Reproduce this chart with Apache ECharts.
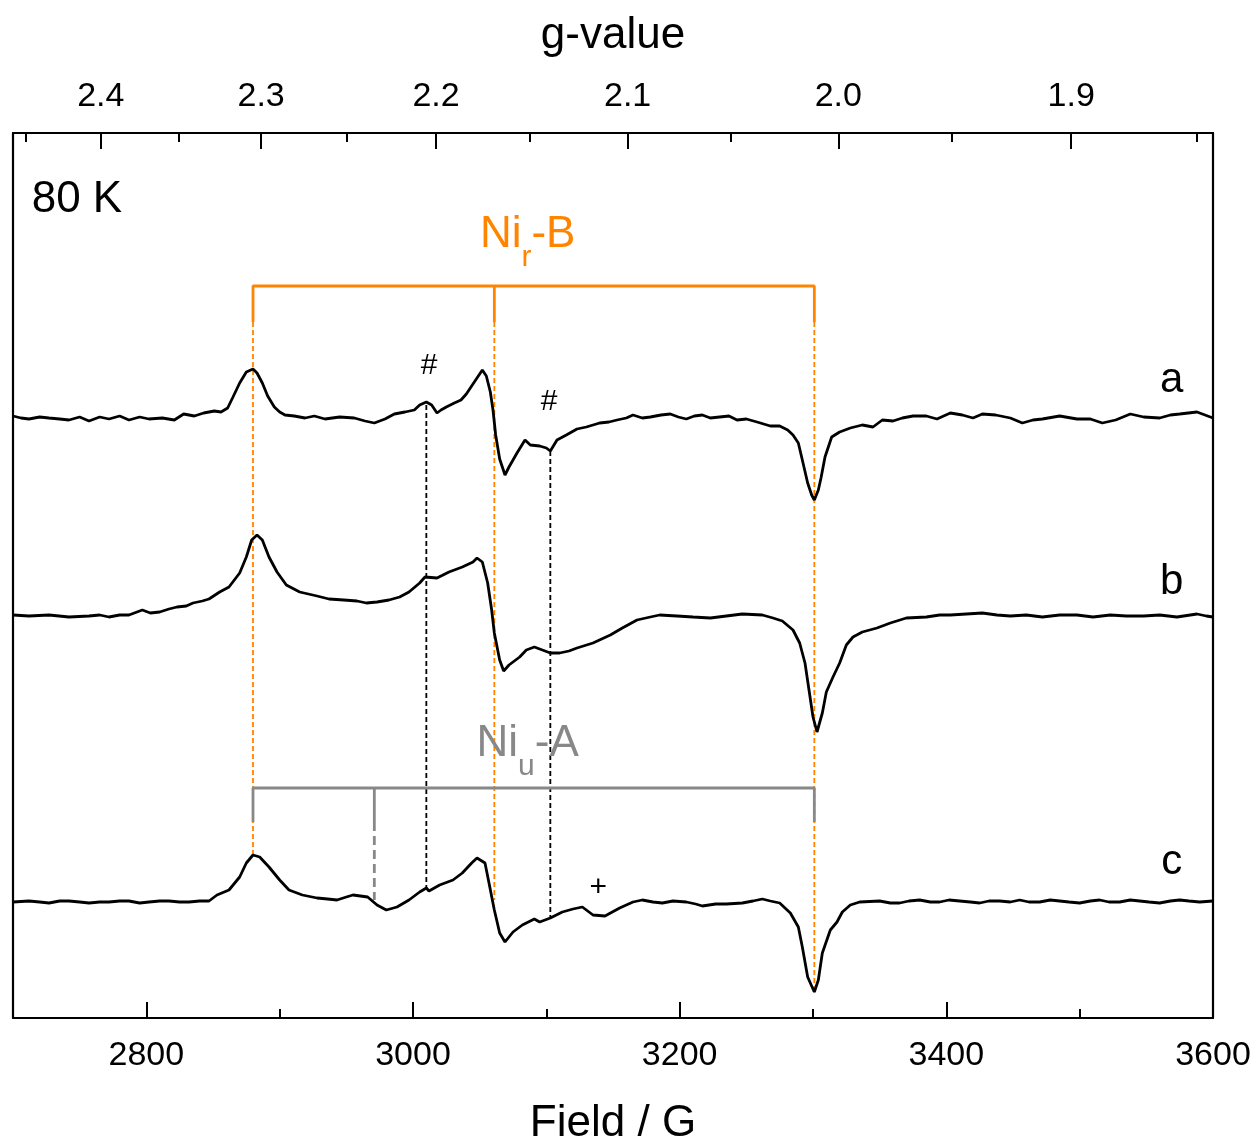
<!DOCTYPE html>
<html>
<head>
<meta charset="utf-8">
<script src="https://cdn.jsdelivr.net/npm/echarts@6/dist/echarts.min.js"></script>
<style>
html, body { margin: 0; padding: 0; background: #fff; }
#chart { width: 1256px; height: 1139px; }
</style>
</head>
<body>
<div id="chart"></div>
<script>
// g = hv / (muB * B)  -> hv/muB expressed in gauss
var G_CONST = 6638;

// axis ticks
var fieldTicks = [2800, 3000, 3200, 3400, 3600];
var fieldMinor = [2900, 3100, 3300, 3500];
var gTicks = [2.4, 2.3, 2.2, 2.1, 2.0, 1.9];
var gMinor = [2.45, 2.35, 2.25, 2.15, 2.05, 1.95, 1.85];

// spectra, [field (G), signal (a.u., relative to own baseline)]
var traceA = [[2700,1],[2706,-1],[2712,-2],[2720,0],[2727,-1],[2735,-2],[2742,-3],[2750,0],[2757,-4],[2765,0],[2772,-2],[2780,1],[2787,-3],[2795,0],[2802,-2],[2812,-1],[2821,-3],[2828,3],[2836,1],[2843,4],[2851,6],[2856,5],[2861,9],[2865,20],[2870,34],[2875,45],[2880,48],[2883,44],[2887,34],[2891,21],[2896,10],[2900,5],[2904,2],[2911,1],[2919,-1],[2926,1],[2934,-2],[2945,0],[2956,-1],[2964,-4],[2971,-6],[2979,-2],[2986,3],[2994,5],[3001,7],[3005,12],[3010,15],[3014,12],[3018,4],[3021,7],[3025,10],[3031,14],[3036,17],[3040,23],[3044,31],[3048,39],[3052,47],[3055,41],[3058,25],[3060,7],[3062,-18],[3065,-42],[3069,-58],[3072,-50],[3078,-36],[3084,-23],[3088,-28],[3095,-29],[3100,-31],[3103,-34],[3108,-23],[3115,-18],[3123,-12],[3130,-10],[3140,-6],[3147,-5],[3153,-3],[3160,-1],[3165,2],[3172,-1],[3178,0],[3186,2],[3193,3],[3199,0],[3205,-2],[3211,1],[3217,2],[3223,-1],[3230,0],[3237,1],[3243,-3],[3250,-2],[3258,-5],[3268,-9],[3275,-9],[3281,-13],[3285,-18],[3289,-26],[3292,-43],[3296,-66],[3299,-78],[3301,-83],[3304,-73],[3306,-61],[3309,-40],[3314,-20],[3320,-15],[3328,-11],[3337,-8],[3345,-10],[3352,-3],[3360,-4],[3367,-1],[3375,1],[3385,1],[3393,-2],[3403,4],[3412,2],[3420,-1],[3427,3],[3437,2],[3448,-1],[3457,-6],[3465,-3],[3472,-2],[3485,1],[3498,-2],[3508,-2],[3517,-6],[3527,-3],[3538,3],[3548,0],[3560,-1],[3568,2],[3575,3],[3588,5],[3600,-1]];

var traceB = [[2700,-1],[2712,-2],[2727,-1],[2742,-3],[2757,-2],[2765,-1],[2772,-3],[2780,-1],[2787,-1],[2797,4],[2803,1],[2810,2],[2817,5],[2823,7],[2830,8],[2835,11],[2842,13],[2847,15],[2855,22],[2862,27],[2870,41],[2875,57],[2879,74],[2883,79],[2887,74],[2892,57],[2898,42],[2905,29],[2915,22],[2928,18],[2937,15],[2948,14],[2958,13],[2965,11],[2973,12],[2982,14],[2990,17],[2997,22],[3005,31],[3009,37],[3018,36],[3027,42],[3037,47],[3045,52],[3048,56],[3052,52],[3056,31],[3059,4],[3061,-19],[3065,-46],[3068,-57],[3072,-51],[3080,-43],[3085,-36],[3091,-33],[3097,-36],[3103,-39],[3110,-39],[3117,-37],[3123,-34],[3135,-29],[3148,-21],[3157,-14],[3168,-6],[3178,-3],[3185,-1],[3198,-2],[3210,-3],[3223,-4],[3235,-2],[3247,0],[3262,-1],[3270,-4],[3277,-7],[3285,-16],[3290,-29],[3294,-49],[3297,-76],[3300,-103],[3303,-118],[3307,-99],[3310,-78],[3315,-63],[3320,-49],[3325,-31],[3330,-23],[3337,-18],[3348,-14],[3358,-9],[3370,-4],[3385,-3],[3395,-1],[3403,-1],[3415,0],[3427,1],[3438,-1],[3448,-2],[3460,-1],[3472,-3],[3485,-1],[3498,-1],[3510,-3],[3523,-1],[3535,-2],[3548,-2],[3560,-1],[3573,-3],[3588,0],[3595,-2],[3600,-3]];

var traceC = [[2700,-1],[2712,0],[2720,-1],[2727,-2],[2735,0],[2742,0],[2750,-1],[2757,-2],[2765,-1],[2772,-1],[2780,0],[2787,0],[2795,-2],[2802,-1],[2810,0],[2817,0],[2825,-1],[2832,-1],[2840,0],[2847,0],[2853,6],[2862,11],[2870,24],[2875,38],[2880,46],[2885,44],[2892,34],[2900,21],[2907,11],[2917,6],[2928,3],[2936,2],[2943,1],[2950,4],[2955,6],[2966,4],[2973,-4],[2980,-9],[2988,-6],[2997,1],[3005,9],[3010,13],[3012,10],[3020,16],[3030,21],[3037,28],[3044,38],[3048,43],[3054,38],[3057,18],[3061,-9],[3065,-32],[3069,-41],[3075,-31],[3082,-24],[3091,-18],[3095,-21],[3103,-17],[3112,-11],[3120,-8],[3127,-6],[3135,-14],[3144,-15],[3155,-7],[3165,-1],[3172,1],[3180,-1],[3187,-2],[3195,0],[3205,-1],[3212,-3],[3217,-5],[3227,-3],[3235,-3],[3247,-2],[3255,0],[3262,2],[3268,0],[3275,-2],[3283,-12],[3289,-26],[3292,-46],[3296,-76],[3301,-91],[3304,-79],[3307,-52],[3313,-29],[3318,-21],[3322,-11],[3328,-4],[3335,-1],[3350,0],[3358,-2],[3365,-2],[3372,0],[3380,1],[3388,-1],[3395,-1],[3402,1],[3410,0],[3418,-1],[3425,-2],[3432,0],[3440,0],[3448,-1],[3455,1],[3462,-1],[3470,-1],[3478,1],[3485,0],[3492,-1],[3500,-2],[3508,0],[3515,1],[3522,-1],[3530,-1],[3538,1],[3545,0],[3552,-1],[3560,-2],[3568,0],[3575,1],[3582,0],[3590,-1],[3600,0]];

// vertical stacking offsets of spectra a, b, c
var traceOffsets = [601, 404, 117];
var traceNames = ['a', 'b', 'c'];

// line positions (field, G)
var nirB = [2880, 3061, 3301];
var niuA = [2880, 2971, 3301];
var hashFields = [3010, 3103];
// where the guide lines end on spectrum c / start on spectrum a
var nirBEnds = [163, 118, 28];
var niuAEnd = 118;
var hashTops = [613, 567];
var hashEnds = [130, 101];

var FONT = "'Liberation Sans', Arial, sans-serif";
var ORANGE = '#ff8400';
var GREY = '#888888';

var dom = document.getElementById('chart');
var myChart = echarts.init(dom);

function seg(points, color, width, type, z) {
    return {
        type: 'line',
        data: points,
        showSymbol: false,
        silent: true,
        animation: false,
        z: z || 2,
        lineStyle: { color: color, width: width, type: type || 'solid' }
    };
}

var series = [];

// spectra
[traceA, traceB, traceC].forEach(function (tr, i) {
    series.push({
        name: traceNames[i],
        type: 'line',
        data: tr.map(function (p) { return [p[0], p[1] + traceOffsets[i]]; }),
        showSymbol: false,
        silent: true,
        z: 5,
        lineStyle: { color: '#000', width: 2.8 }
    });
});

// Ni_r-B bracket
var bTop = 732, bLow = 696;
series.push(seg([[nirB[0], bLow], [nirB[0], bTop], [nirB[2], bTop], [nirB[2], bLow]], ORANGE, 2.8));
series.push(seg([[nirB[1], bTop], [nirB[1], bLow]], ORANGE, 2.8));
nirB.forEach(function (f, i) {
    series.push(seg([[f, bLow], [f, nirBEnds[i]]], ORANGE, 1.8, [5, 3], 1));
});

// Ni_u-A bracket
var aTop = 230, aLow = 196;
series.push(seg([[niuA[0], aLow], [niuA[0], aTop], [niuA[2], aTop], [niuA[2], aLow]], GREY, 2.8, 'solid', 3));
series.push(seg([[niuA[1], aTop], [niuA[1], aLow]], GREY, 2.8, 'solid', 3));
series.push(seg([[niuA[1], aLow], [niuA[1], niuAEnd]], GREY, 2.8, [9, 5], 3));

// # markers guide lines
hashFields.forEach(function (f, i) {
    series.push(seg([[f, hashTops[i]], [f, hashEnds[i]]], '#000', 1.8, [5, 3], 1));
});

// text annotations
function txt(x, y, text, opts) {
    var lab = Object.assign({
        show: true, position: 'inside', formatter: text,
        fontFamily: FONT, fontSize: 44, color: '#000'
    }, opts || {});
    return { value: [x, y], label: lab };
}
function subRich(color) {
    return {
        m: { fontFamily: FONT, fontSize: 44, color: color, lineHeight: 50, verticalAlign: 'top' },
        s: { fontFamily: FONT, fontSize: 30, color: color, lineHeight: 30, padding: [30, 0, 0, 0], verticalAlign: 'top' }
    };
}
series.push({
    type: 'scatter',
    symbolSize: 0,
    silent: true,
    z: 6,
    itemStyle: { opacity: 1 },
    data: [
        txt(2714, 818, '80 K', { align: 'left' }),
        txt(3086, 780, '{m|Ni}{s|r}{m|-B}', { rich: subRich(ORANGE) }),
        txt(3086, 271, '{m|Ni}{s|u}{m|-A}', { rich: subRich(GREY) }),
        txt(3012, 652, '#', { fontSize: 30 }),
        txt(3102, 616, '#', { fontSize: 30 }),
        txt(3139, 130, '+', { fontSize: 30 }),
        txt(3569, 638, 'a', { fontSize: 42 }),
        txt(3569, 436, 'b', { fontSize: 42 }),
        txt(3569, 156, 'c', { fontSize: 42 })
    ]
});

var gValues = gTicks.map(function (g) { return G_CONST / g; });
var gMinorValues = gMinor.map(function (g) { return G_CONST / g; });

var option = {
    backgroundColor: '#fff',
    animation: false,
    grid: { left: 13, right: 43, top: 133, bottom: 121, containLabel: false, outerBoundsMode: 'none' },
    xAxis: [
        {
            type: 'value', position: 'bottom', min: 2700, max: 3600,
            name: 'Field / G', nameLocation: 'middle', nameGap: 84,
            nameTextStyle: { fontFamily: FONT, fontSize: 44, color: '#000' },
            axisLine: { onZero: false, lineStyle: { color: '#000', width: 2.2 } },
            axisTick: { inside: true, length: 16, customValues: fieldTicks, lineStyle: { color: '#000', width: 2 } },
            axisLabel: {
                customValues: fieldTicks, margin: 21, fontFamily: FONT, fontSize: 34, color: '#000',
                formatter: function (v) { return String(v); }
            },
            splitLine: { show: false }
        },
        {
            type: 'value', position: 'top', min: 2700, max: 3600,
            name: 'g-value', nameLocation: 'middle', nameGap: 75,
            nameTextStyle: { fontFamily: FONT, fontSize: 44, color: '#000' },
            axisLine: { onZero: false, lineStyle: { color: '#000', width: 2.2 } },
            axisTick: { inside: true, length: 16, customValues: gValues, lineStyle: { color: '#000', width: 2 } },
            axisLabel: {
                customValues: gValues, margin: 19, fontFamily: FONT, fontSize: 34, color: '#000',
                formatter: function (v) { return (G_CONST / v).toFixed(1); }
            },
            splitLine: { show: false }
        },
        {
            type: 'value', position: 'bottom', min: 2700, max: 3600,
            axisLine: { show: false, onZero: false },
            axisTick: { inside: true, length: 9, customValues: fieldMinor, lineStyle: { color: '#000', width: 2 } },
            axisLabel: { show: false },
            splitLine: { show: false }
        },
        {
            type: 'value', position: 'top', min: 2700, max: 3600,
            axisLine: { show: false, onZero: false },
            axisTick: { inside: true, length: 9, customValues: gMinorValues, lineStyle: { color: '#000', width: 2 } },
            axisLabel: { show: false },
            splitLine: { show: false }
        }
    ],
    yAxis: [
        {
            type: 'value', position: 'left', min: 0, max: 885,
            axisLine: { show: true, onZero: false, lineStyle: { color: '#000', width: 2.2 } },
            axisTick: { show: false }, axisLabel: { show: false }, splitLine: { show: false }
        },
        {
            type: 'value', position: 'right', min: 0, max: 885,
            axisLine: { show: true, onZero: false, lineStyle: { color: '#000', width: 2.2 } },
            axisTick: { show: false }, axisLabel: { show: false }, splitLine: { show: false }
        }
    ],
    series: series
};

myChart.setOption(option);
</script>
</body>
</html>
